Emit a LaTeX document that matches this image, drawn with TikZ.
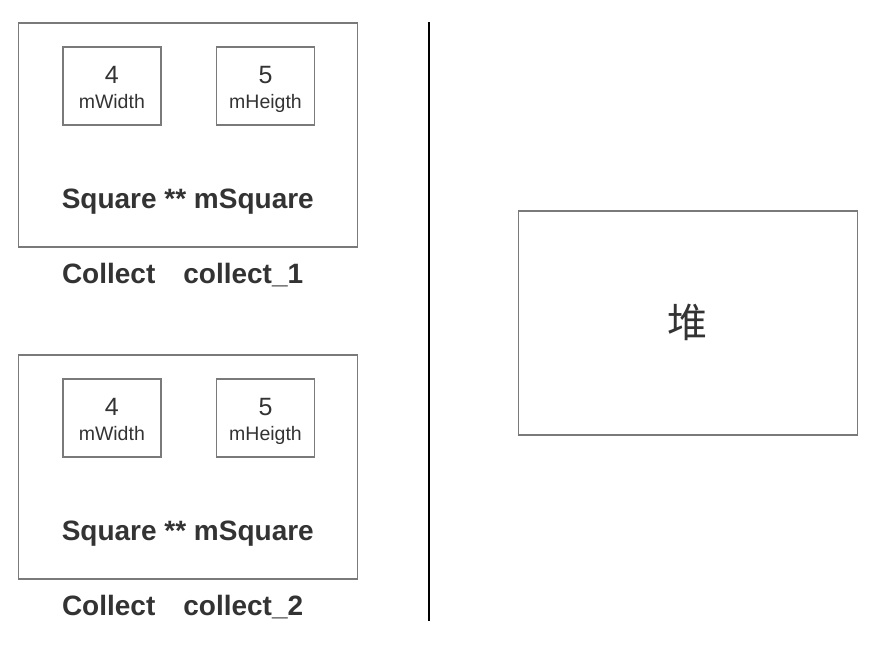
\documentclass[tikz,border=0pt]{standalone}
\usepackage{fontspec}
\setmainfont{Liberation Sans}
\newfontfamily\cjkfont{Noto Sans CJK SC}
\usetikzlibrary{positioning}
\definecolor{boxgray}{HTML}{7A7A7A}
\definecolor{txtgray}{HTML}{333333}

\begin{document}
\begin{tikzpicture}[x=1pt, y=-1pt, every node/.style={text=txtgray, outer sep=0pt},
    outerbox/.style={draw=boxgray, line width=1.6pt, minimum width=339pt, minimum height=224pt, inner sep=0pt},
    fieldbox/.style={draw=boxgray, line width=1.6pt, minimum width=98pt, minimum height=78pt, inner sep=0pt, align=center,
        font=\fontsize{19.5}{25}\selectfont, text height=44.6pt, text depth=0pt},
    boldtxt/.style={font=\fontsize{28}{30}\selectfont\bfseries, inner sep=0pt}]
    \useasboundingbox (0,0) rectangle (882,646);
    % first object on the stack
    \node[outerbox] (c1) at (187.8, 134.7) {};
    \node[fieldbox] (w1) at (111.8, 85.8) {{\fontsize{25}{25}\selectfont 4}\\mWidth};
    \node[fieldbox, right=55.7pt of w1] (h1) {{\fontsize{25}{25}\selectfont 5}\\mHeigth};
    \node[boldtxt, anchor=base] (sq1) at (187.8, 208.3) {Square ** mSquare};
    \node[boldtxt, anchor=base west] (lbl1) at (62, 283.3) {Collect\quad collect\_1};
    % second object
    \node[outerbox] (c2) at (187.8, 466.7) {};
    \node[fieldbox] (w2) at (111.8, 417.8) {{\fontsize{25}{25}\selectfont 4}\\mWidth};
    \node[fieldbox, right=55.7pt of w2] (h2) {{\fontsize{25}{25}\selectfont 5}\\mHeigth};
    \node[boldtxt, anchor=base] (sq2) at (187.8, 540.3) {Square ** mSquare};
    \node[boldtxt, anchor=base west] (lbl2) at (62, 615.3) {Collect\quad collect\_2};
    % separator
    \coordinate (septop) at (429, 22);
    \coordinate (sepbot) at (429, 621);
    \draw[line width=1.6pt] (septop) -- (sepbot);
    % heap
    \node[outerbox] (heap) at (687.8, 322.8) {\cjkfont\fontsize{40}{40}\selectfont 堆};
\end{tikzpicture}
\end{document}
